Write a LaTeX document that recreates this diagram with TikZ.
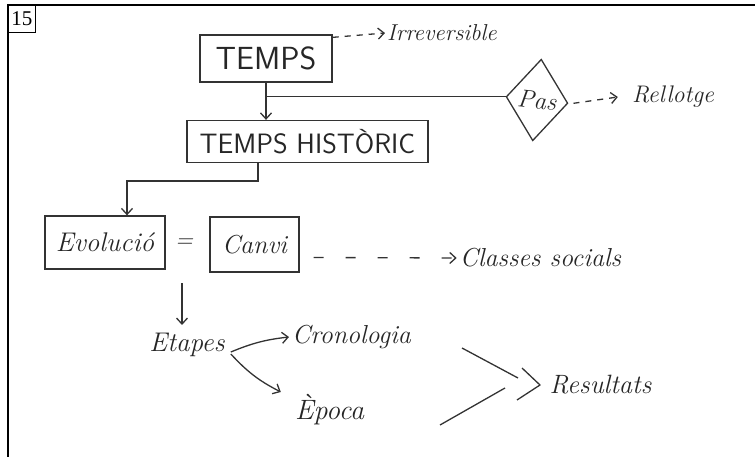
\documentclass[tikz,border=0pt]{standalone}
\usepackage{fontspec}
\newfontfamily\pagenumfont{Liberation Serif}
\usetikzlibrary{arrows.meta,shapes.geometric}
\tikzset{
  ink/.style={draw=black!80, line width=1.3pt},
  box/.style={ink, rectangle, inner sep=0pt},
  hand/.style={font=\fontsize{#1}{#1}\selectfont\itshape, text=black!85, inner sep=0pt},
  caps/.style={font=\fontsize{#1}{#1}\selectfont\sffamily, text=black!85, inner sep=0pt},
  arr/.style={ink, -{Straight Barb[length=6pt,width=11pt]}},
  darr/.style={arr, dash pattern=on 6pt off 6pt},
}
\begin{document}
\begin{tikzpicture}[x=1pt,y=-1pt]
\useasboundingbox (0,0) rectangle (755,457);

% page frame and number
\draw[line width=1.2pt] (8,457) -- (8,5) -- (755,5);
\node[draw, line width=0.8pt, minimum width=27pt, minimum height=27pt, inner sep=0pt,
      anchor=north west] (num) at (8,5) {\pagenumfont\fontsize{21}{21}\selectfont 15};

% boxes
\node[box, minimum width=132pt, minimum height=47pt, caps=32] (temps) at (266,58.5) {TEMPS};
\node[box, minimum width=241pt, minimum height=42pt, caps=28] (hist) at (307.5,141.5) {TEMPS HISTÒRIC};
\node[box, minimum width=120pt, minimum height=53pt, hand=27] (evol) at (105,242.5) {Evolució};
\node[box, minimum width=89pt, minimum height=55pt, hand=26] (canvi) at (254.5,244.5) {Canvi};
\node[ink, shape=diamond, minimum width=62pt, minimum height=82pt, inner sep=0pt,
      rotate=-6, hand=25] (pas) at (537,100) {Pas};

% free labels
\node[hand=23] (irrev) at (442,33) {Irreversible};
\node[hand=24] (rell) at (673,97) {Rellotge};
\node[hand=24] (eq) at (184,243) {=};
\node[hand=26] (classes) at (540.5,258) {Classes socials};
\node[hand=27] (etapes) at (187,345) {Etapes};
\node[hand=26] (crono) at (351.5,337) {Cronologia};
\node[hand=28] (epoca) at (329.5,410) {Època};
\node[hand=26.5] (result) at (600.5,385) {Resultats};

% connectors
\draw[arr] (temps.south) -- (temps.south |- hist.north);
\draw[ink] (temps.south |- pas.west) -- (pas.west);
\draw[arr] ([xshift=-49.5pt]hist.south) -- ++(0,18) -| ([xshift=22pt]evol.north);
\draw[darr] ([yshift=-3pt]temps.north east) -- ([xshift=-2pt]irrev.west);
\draw[darr] ([xshift=5pt]pas.east) -- ([xshift=-14pt]rell.west);
\draw[arr, dash pattern=on 10pt off 22pt] ([shift={(14pt,-13pt)}]canvi.east) -- ([xshift=-3pt]classes.west);
\coordinate (evfoot) at (182,283);
\draw[arr, shorten >=8pt] (evfoot) -- (evfoot |- etapes.north);
\draw[arr] ([shift={(6pt,-7pt)}]etapes.east) to[bend left=8] ([xshift=-3pt]crono.west);
\draw[arr] ([shift={(6pt,-9pt)}]etapes.east) to[bend right=10] ([shift={(-14pt,18pt)}]epoca.west);

% converging strokes towards the results
\draw[ink] (462,348) -- (518,378);
\draw[ink] (440,425) -- (505,388);
\draw[ink, line join=round] (522,368) -- (540,385) -- (517,400);
\end{tikzpicture}
\end{document}
